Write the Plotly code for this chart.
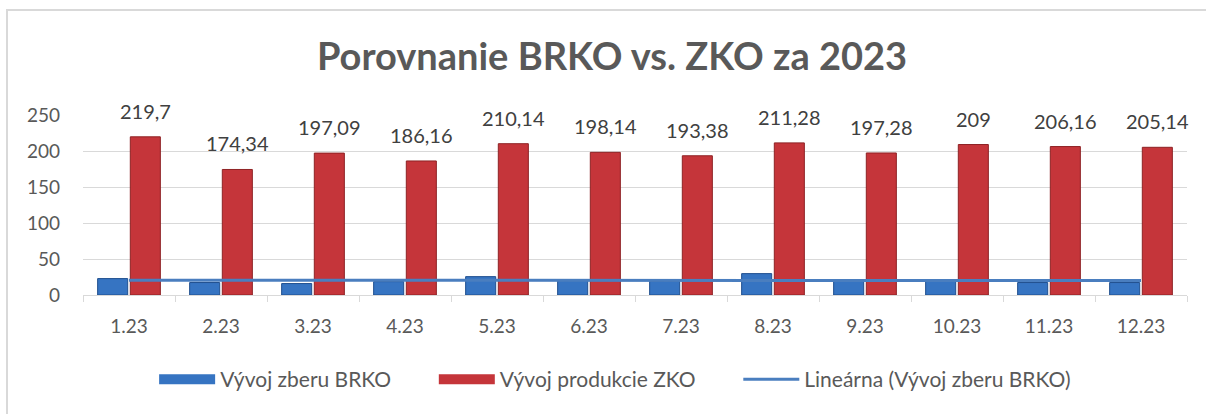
import numpy as np
import plotly.graph_objects as go

categories = ["1.23", "2.23", "3.23", "4.23", "5.23", "6.23",
              "7.23", "8.23", "9.23", "10.23", "11.23", "12.23"]
brko = [22.8, 17.3, 15.9, 18.6, 25.5, 20.0, 19.0, 29.7, 20.0, 20.0, 17.3, 17.3]
zko = [219.7, 174.34, 197.09, 186.16, 210.14, 198.14,
       193.38, 211.28, 197.28, 209, 206.16, 205.14]

title_text = "Porovnanie BRKO vs. ZKO za 2023"
name_brko = "Vývoj zberu BRKO"
name_zko = "Vývoj produkcie ZKO"
name_trend = "Lineárna (Vývoj zberu BRKO)"
y_ticks = [0, 50, 100, 150, 200, 250]

idx = np.arange(len(categories))
slope, intercept = np.polyfit(idx, np.array(brko), 1)
trend = slope * idx + intercept

zko_labels = [f"{v:g}".replace(".", ",") for v in zko]

FONT = "Lato"
W, H = 1206, 414
ML, MR, MT, MB = 83, 19, 115, 119
BARGAP = 0.29
plot_w = W - ML - MR
cat_w = plot_w / len(categories)
red_offset = cat_w * (1 - BARGAP) / 4

BLUE, BLUE_EDGE = "#3674c2", "#1f4f8f"
RED, RED_EDGE = "#c5353a", "#8e2224"
TREND = "#4a7ebf"
PAD = "\u00a0" * 7

fig = go.Figure()
fig.add_trace(go.Bar(
    x=categories, y=brko, name=name_brko, showlegend=False,
    marker=dict(color=BLUE, line=dict(color=BLUE_EDGE, width=1)),
))
fig.add_trace(go.Bar(
    x=categories, y=zko, name=name_zko, showlegend=False,
    marker=dict(color=RED, line=dict(color=RED_EDGE, width=1)),
))
fig.add_trace(go.Scatter(
    x=categories, y=trend, name=name_trend, mode="lines", showlegend=False,
    line=dict(color=TREND, width=3),
))
# legend entries (wide swatches like the original)
for nm, col, w in [(name_brko + PAD, BLUE, 14), (name_zko + PAD, RED, 14),
                   (name_trend, TREND, 3)]:
    fig.add_trace(go.Scatter(x=[None], y=[None], name=nm, mode="lines",
                             line=dict(color=col, width=w), hoverinfo="skip"))

for i, v, t in zip(idx, zko, zko_labels):
    fig.add_annotation(x=int(i), y=v, text=t, showarrow=False,
                       xanchor="center", yanchor="bottom",
                       xshift=red_offset, yshift=12,
                       font=dict(family=FONT, size=20, color="#404040"))

fig.update_layout(
    width=W, height=H,
    margin=dict(l=ML, r=MR, t=MT, b=MB, autoexpand=False),
    paper_bgcolor="white", plot_bgcolor="white",
    barmode="group", bargap=BARGAP, bargroupgap=0.08,
    title=dict(text=f"<b>{title_text}</b>", x=612 / W, xanchor="center",
               xref="container",
               y=1 - 57 / H, yanchor="middle",
               font=dict(family=FONT, size=38, color="#595959")),
    font=dict(family=FONT, color="#595959"),
    showlegend=True,
    legend=dict(orientation="h", x=0.482, xanchor="center",
                y=-0.47, yanchor="middle",
                font=dict(family=FONT, size=21, color="#595959"),
                itemwidth=56, traceorder="normal",
                bgcolor="rgba(0,0,0,0)"),
)
fig.update_xaxes(
    type="category", range=[-0.5, len(categories) - 0.5],
    showgrid=False, showline=True, linecolor="#d9d9d9",
    linewidth=1, ticks="outside", tickson="boundaries", ticklen=6,
    tickcolor="#d9d9d9", ticklabelstandoff=14, automargin=False,
    tickfont=dict(family=FONT, size=19, color="#595959"),
)
fig.update_yaxes(
    range=[0, 250], tickvals=y_ticks, showgrid=True, gridcolor="#d9d9d9",
    gridwidth=1, zeroline=False, showline=False, ticks="",
    ticklabelstandoff=22, automargin=False,
    tickfont=dict(family=FONT, size=19, color="#595959"),
)

fig.add_shape(type="rect", xref="paper", yref="paper",
              x0=(7 - ML) / plot_w, x1=1.03, y0=-0.75,
              y1=(H - MB - 10) / (H - MT - MB),
              line=dict(color="#d9d9d9", width=2), fillcolor="rgba(0,0,0,0)",
              layer="below")

fig.write_html("out.html",
               config={"displayModeBar": False},
               post_script="document.body.style.margin='0';"
                           "document.body.style.overflow='hidden';")
